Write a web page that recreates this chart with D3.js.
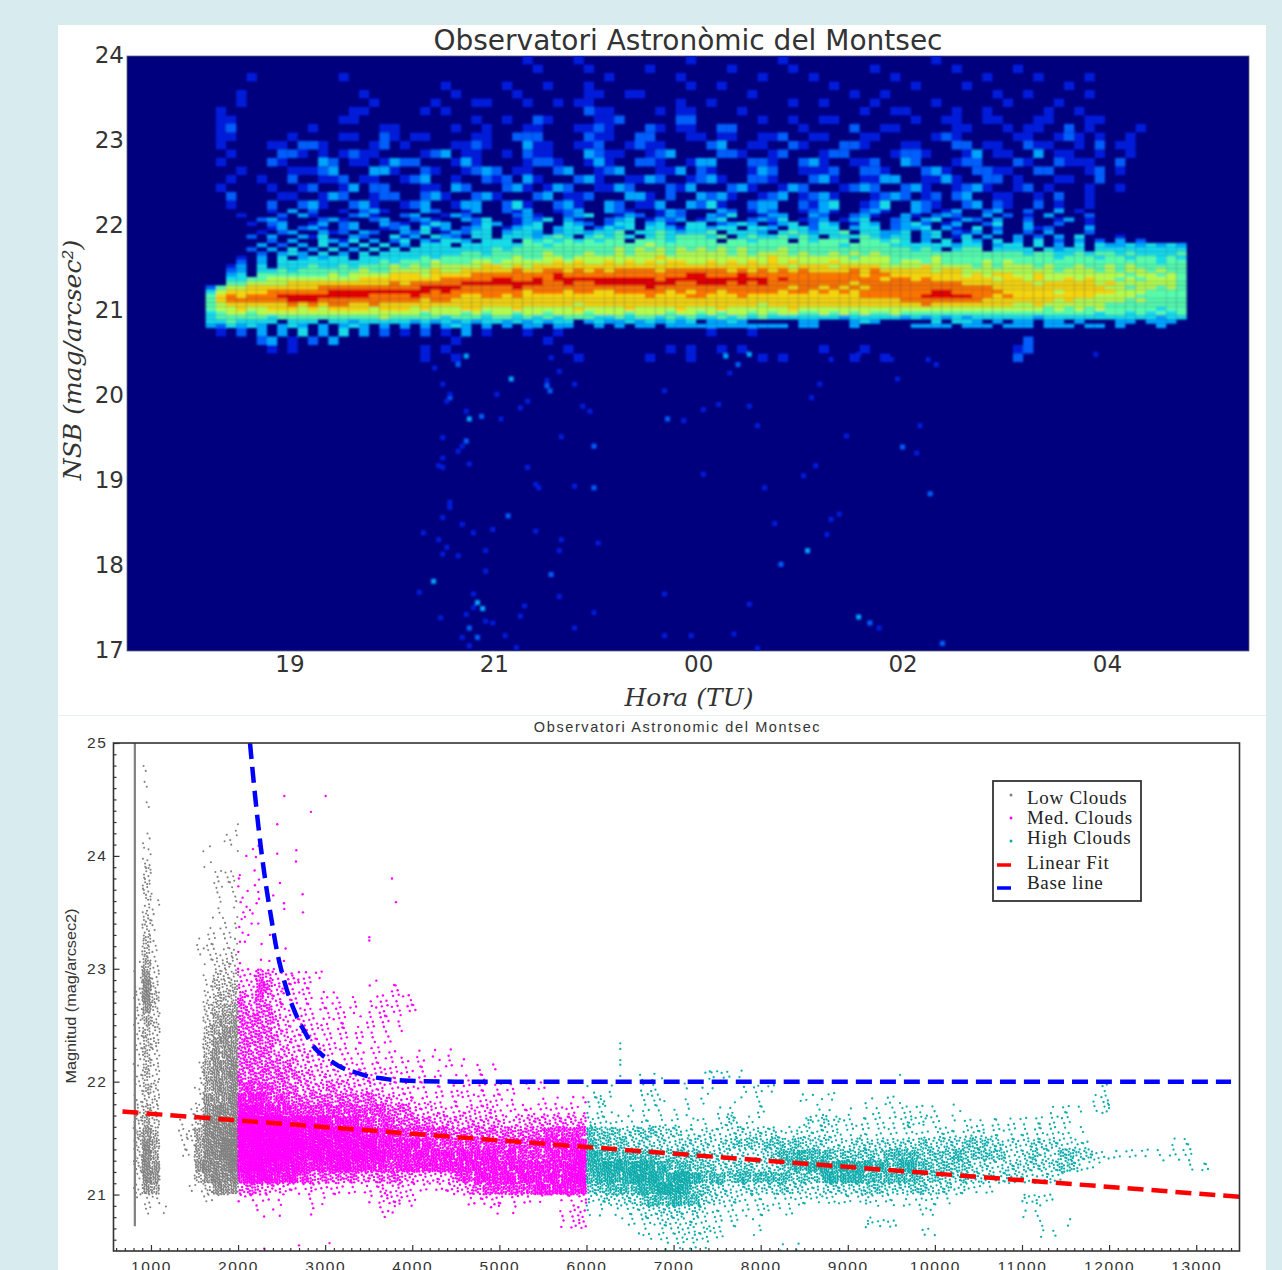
<!DOCTYPE html>
<html>
<head>
<meta charset="utf-8">
<script src="https://cdn.jsdelivr.net/npm/d3@7"></script>
<style>
  html, body { margin: 0; padding: 0; background: #d8ebee; overflow: hidden; }
  svg { display: block; }
</style>
</head>
<body>
<div id="chart"></div>
<script>
const topTitle = "Observatori Astronòmic del Montsec";
const bottomTitle = "Observatori Astronomic del Montsec";

// top panel: the axis is evenly spaced in the picture, so 00/02/04 sit at 23/25/27
const hourTicks = [19, 21, 23, 25, 27];
const hourLabels = ["19", "21", "00", "02", "04"];
const nsbTicks = [24, 23, 22, 21, 20, 19, 18, 17];
const jetColors = ["#00007f", "#0010e8", "#0060ff", "#00a8ff", "#10e0f0", "#50ffb0", "#b8ff48", "#ffe000", "#ff7800", "#e00000"];

// density level 0-9, columns of 0.1 h starting at 18.08 h
const heatStartHour = 18.08;

// speckle above the band, rows of 0.1 mag from 24 down to 22.2
const heatUpperTop = 24;
const heatUpperRows = [
  "0000000000 0000000000 0000000000 0010000100 0000000010 0000000100 0000000000 0010000000 0000000000 0000000",
  "0000000000 0000000000 0000000000 0001000010 0000100000 0010000010 0000001000 0000100000 1000000000 0000000",
  "0000010000 0000100000 0000000000 0000000000 1000000100 0000010000 1000000010 0000000100 0010000100 0000000",
  "0000000000 0000000000 0000100000 1000100010 0000000010 0100000000 0010000000 1000010000 0000010000 0000000",
  "0000100000 0000001000 0000010000 0100000011 0011000000 0000100000 0000100100 0000000010 0100000100 0000000",
  "0000100000 0000000100 0001000110 0010010110 0000000100 1000000010 0100001000 0010000001 0000100000 0000000",
  "0010000000 0000011000 0010100000 0000000021 1000010110 0001000000 0000010011 0000100100 0001001000 0000000",
  "0011000000 0000110000 0000000100 1002100001 1200000220 0000010010 0110000000 1001100110 0011000110 0000000",
  "0012000000 0100000011 0000010010 0011000112 1000210110 0220000001 0000200110 0000110001 0110020100 0010000",
  "0011000001 0000110021 0110000110 0222000021 1002200011 0110011200 1100011000 0012100000 1100121010 0100000",
  "0010000110 2210000120 1000011210 0031100112 0012110000 2300110021 0002210001 1000220110 0211001020 1100000",
  "0001000022 1010121100 0012301100 1021100032 1100123000 0221001200 0122000012 2100013011 0030110010 0100000",
  "0010000210 0032011013 2200013100 0012210013 1002210013 3000221002 3100112003 2000122000 2100211100 2000000",
  "0000100001 1123000331 0021001232 0110023001 2300011302 1000132001 1120022100 0231002211 0022000120 1000000",
  "0001001002 0011201100 1230010021 2031000231 0011320012 3100221000 2310011330 0113100220 1000110020 0000000",
  "0010000100 1200130220 0011032000 2310132001 1320002130 0023100132 0001232002 3100123100 1201000100 1000000",
  "0002000011 0013200122 0023100231 0002301120 0033102003 2310012301 2310001232 0120230011 0010200100 0000000",
  "0001000200 2310023100 1230013300 2410023100 3201130032 4100233002 1340012400 3210023021 0020100100 0000000"
].map(r => r.replace(/ /g, ""));

// the band itself, finer rows of 0.05 mag from 22.2 down to 20.8
const heatBandTop = 22.2;
const heatBandRows = [
  "0000000103 0200102310 0032001300 2130012300 3210013200 0320132001 2310023100 3201300230 0200301000 0000000",
  "0000100020 3100023100 2300132000 0231002340 0132013200 3240013300 3200231003 1023200302 0103000200 0000000",
  "0000002310 0023100230 0231003240 0132403100 2340132301 3400232401 2301340023 0340132030 0200130100 0000000",
  "0000010230 0130230032 1024300243 0134004320 2440341044 0234301340 2430143023 4201300240 0300200100 0000000",
  "0000000130 2310230012 3041302340 1344034402 4340443144 3440443044 2440344023 3403104020 0312000300 0000000",
  "0000001023 0031203200 3240132440 3443034434 4504454344 5044430454 3445044334 0340213030 0203000200 0000000",
  "0000020300 3140032004 1304320440 4443454045 4540454555 4504544545 4044454344 0340140300 3020304000 1000000",
  "0000000203 0043140302 4031443044 4054545454 5505554555 5055455505 4555055454 0304043040 3040203020 3020000",
  "0000003020 3040304040 3044404444 4455455555 5555655555 5555555555 5554555544 4444344034 4040304043 3434343",
  "0000020304 0304030404 0444444445 4555555555 5656565656 5656555655 5555555555 4540455044 4404344044 4444444",
  "0000002034 3040304044 4444445545 5555655565 5656665666 6656566656 5565656555 5555555555 5455445455 4544445",
  "0000103040 3434404444 4454555555 5655665666 6666676666 6666667666 6666566655 5565555555 5555455545 5455454",
  "0000203044 4444444454 5556555665 6666676766 7676767766 7676767676 6676666656 6565555656 5555555555 5555455",
  "0001304044 4544545556 5656666677 6767777777 7777777777 7777777767 7767777666 6766665656 6656556556 5655555",
  "0002304454 5555556556 6667667777 7877887878 7888878888 8878787878 7777878777 7767766666 6666566656 5665655",
  "0003405555 5556566667 7767777888 8888898888 8888888899 8889888888 8888878877 7777767677 6676666666 6566565",
  "0004455666 6666667777 7777888889 9889899999 9999989999 9999998988 8888888788 7877777767 7676676766 5656665",
  "0005566667 7777777778 7888889999 9999889889 9999999889 9989898888 8888788888 8888877777 7767777767 6666665",
  "0256677777 7788888888 8899998888 8988888888 8888988888 8888888878 8787878888 8888888877 7777777776 6566565",
  "0467777888 8889999999 9998988888 8878887887 7888887878 8788888788 7878788888 8899888887 7777677777 6665555",
  "0578788899 9999999888 8988887788 7877777777 7777877788 7778777777 7777788888 8999998878 7777777766 6655555",
  "0578888889 9988888888 8878877777 7777777777 7777777777 7777777777 7777777778 8888888777 7777676666 6565555",
  "0567777778 7878877877 7777777777 7777777677 7777777777 7777767777 7777777777 7877777777 6676666665 5555555",
  "0566766777 6767777677 7676667766 6766666766 6676666766 6766666676 6666666666 6666666666 6665656565 5555455",
  "0456656666 6666666666 6656665656 6566566656 6656665665 6566565665 5656565565 5555555555 5555555545 5454545",
  "0455555455 5555555565 5555455545 5454545554 4545545454 4545454444 4443444443 4343434444 4434444444 4444344",
  "0445444404 4404434444 4343434344 3434344034 3343434340 3343000003 3000343000 0040443030 3303303000 3303330",
  "0324343034 3030343030 3030343030 3033033003 0303303333 3333333303 3000300000 3333033303 3303330330 3000300"
].map(r => r.replace(/ /g, ""));

// thin remains under the band, rows of 0.1 mag from 20.8 down to 20.5
const heatLowerTop = 20.8;
const heatLowerRows = [
  "0010203030 4030403020 1020103010 0010010000 0000000000 1000100000 0000000000 0000000000 0000000000 0000000",
  "0000002301 0203000000 0000010000 0000100000 0000000000 0000000000 0000000000 0000000000 0200000000 0000000",
  "0000000101 0000000000 0010100000 0000001000 0000001010 0101000000 0100010000 0000000000 1200000000 0000000",
  "0000000000 0000000000 0010010000 0000000100 0000100010 0000010100 0000100100 0000000000 2000000000 0000000"
].map(r => r.replace(/ /g, ""));

// isolated faint spots below the band: hour, magnitude, level
const faintSpots = [
  [21.17,20.20,3],[21.52,20.12,2],[21.79,20.14,1],[20.57,19.98,2],[20.76,19.73,3],[20.88,19.76,2],[21.07,19.73,1],
  [21.33,19.94,1],[21.94,19.82,1],[22.67,20.06,1],[22.70,19.73,2],[22.86,19.71,1],[23.05,19.84,1],[23.20,19.90,1],
  [23.50,19.88,1],[23.58,19.65,1],[24.19,20.14,1],[24.11,19.98,1],[24.95,20.20,1],[25.17,19.65,1],[24.45,19.53,1],
  [25.00,19.40,2],[20.73,19.47,2],[20.50,19.16,1],[21.66,19.52,1],[21.98,19.41,2],[21.98,18.92,2],[21.44,18.92,1],
  [20.57,18.75,1],[21.14,18.59,2],[20.69,18.49,1],[20.80,18.39,1],[25.27,18.85,2],[24.30,18.55,1],[23.75,18.50,1],
  [24.07,18.18,3],[23.81,18.02,2],[20.41,17.82,3],[21.56,17.90,2],[20.92,17.94,1],[21.66,18.31,1],[20.50,18.14,1],
  [21.64,17.64,1],[20.84,17.57,3],[20.89,17.50,3],[21.30,17.53,1],[20.48,17.39,1],[21.98,17.45,1],[20.99,17.33,1],
  [20.76,17.27,2],[24.57,17.40,3],[24.68,17.33,2],[24.77,17.27,1],[23.35,17.20,1],[20.69,17.16,1],[20.84,17.16,2],
  [20.76,17.06,1],[21.22,17.04,1],[25.39,17.09,2],[23.58,17.03,1],[21.11,17.18,1],[22.67,17.18,1],[22.93,17.18,1],
  [20.73,20.47,3],[20.65,20.37,2],[20.35,20.45,1],[20.42,20.33,1],[23.27,20.47,3],[23.50,20.49,3],[23.39,20.37,2],
  [23.31,20.27,1],[21.56,20.45,1],[21.64,20.29,1],[25.25,20.43,1],[25.33,20.37,1],[24.89,20.43,1],[24.30,20.43,1],
  [24.57,20.49,1],[26.89,20.49,1],
  [20.50,20.14,1],[20.57,20.02,1],[20.54,19.94,1],[20.73,19.82,1],[21.03,20.02,1],[21.26,19.86,1],[21.55,20.06,2],
  [21.52,20.18,1],[21.87,19.88,1],[20.50,19.51,1],[20.69,19.41,1],[20.65,19.35,1],[20.50,19.27,1],[20.46,19.18,1],
  [20.76,19.20,1],[21.33,19.16,1],[21.41,18.96,1],[21.79,18.94,1],[20.57,18.69,1],[20.50,18.57,1],[20.46,18.31,1],
  [20.54,18.22,1],[20.65,18.12,1],[20.92,18.18,1],[20.99,18.43,1],[21.41,18.41,1],[21.64,18.18,1],[22.02,18.27,1],
  [20.31,18.39,1],[20.27,17.69,1],[20.80,17.67,1],[20.80,17.51,1],[20.73,17.43,1],[20.92,17.35,1],[21.26,17.41,1],
  [21.79,17.27,1],[23.50,17.55,1],[22.67,17.67,1],[24.26,18.37,1],[24.38,18.61,1],[23.65,18.92,1],[24.03,19.06,1],
  [24.15,19.18,1],[23.05,19.08,1],[25.14,19.33,1]
];

// bottom panel
const fluxTicks = [1000, 2000, 3000, 4000, 5000, 6000, 7000, 8000, 9000, 10000, 11000, 12000, 13000];
const magTicks = [25, 24, 23, 22, 21];

// density levels per 100 x 0.1 mag cell; each grid's first row ends at its top magnitude
const lowStartX = 800;
const lowTopMag = 24.8;
const lowRows = [
  "010000000000", "010000000000", "000000000000", "010000000000", "000000000000", "000000000001",
  "020000000011", "020000001001", "030000001000", "040000000121", "040000000212", "041000000101",
  "031000000101", "041000000111", "041000001111", "051000012112", "052000012223", "162000001343",
  "173000001444", "284000002545", "385000003555", "374000004566", "364000004667", "354000005677",
  "254000005777", "253000005777", "253000016778", "353000016778", "254000026778", "244000027778",
  "354000137888", "464001148888", "575002368889", "486001268899", "486001168899", "487000078889",
  "387000057888", "376000114777", "122000002100", "020100000000", "000000000000"
];

const medStartX = 2000;
const medTopMag = 23;
const medRows = [
  "3254222111 0000000000 0000000000 0000000000",
  "3365322210 0000010110 0000000000 0000000000",
  "5364322211 1101011121 0000000000 0000000000",
  "5455322222 2211022212 1000000000 0000000000",
  "5555432322 2110112110 0000000000 0000000000",
  "5555433322 1211111010 0000000000 0000000000",
  "5555433222 2111111100 0000000000 0000000000",
  "5555443333 2212121110 1010100000 0000000000",
  "5555554333 3222222111 1101110101 0000000000",
  "5555555443 3333332121 1111011110 0000000000",
  "6666555444 5443333222 2211121111 1101110000",
  "7776665555 5555554433 2221121222 1100011011",
  "8887776666 6666666555 3333223333 2222222211",
  "9999988888 7777666655 5544444444 3334444444",
  "9999999888 8888777766 6666555555 5555566666",
  "9999999988 8888887777 7766666666 6666677777",
  "9999998888 8888888777 7777777777 6766667778",
  "8998888777 7887777677 7777777777 7777777788",
  "7888777655 5555445554 3333466777 7777777788",
  "4544332232 2211113232 1112334566 6666777777",
  "2111100011 0000012332 1000001123 1111100123",
  "0010100010 0000002200 0000000001 0100000123",
  "0000000000 0000000000 0000000000 0000000123"
].map(r => r.replace(/ /g, ""));

// magenta points above the dense part, read one by one
const medOutliers = [
  [2531,24.53],[3006,24.53],[2837,24.39],[2450,24.28],[2669,24.05],[2665,23.95],[2450,24.02],[2171,24.06],[2095,24.0],
  [2236,24.09],[2205,23.99],[2190,23.87],[2020,23.83],[2010,23.80],[2003,23.73],[2240,23.79],[2481,23.76],[2741,23.66],
  [2404,23.65],[2527,23.58],[2531,23.53],[2745,23.5],[3767,23.8],[3813,23.59],[3507,23.28],[3507,23.25],[2052,23.63],
  [2030,23.59],[2110,23.69],[2194,23.74],[2232,23.68],[2240,23.62],[2213,23.58],[2098,23.55],[2137,23.52],[2060,23.5],
  [2167,23.49],[2041,23.44],[2079,23.46],[2156,23.4],[2232,23.4],[2014,23.37],[2052,23.32],[2118,23.3],[2022,23.24],
  [2079,23.24],[2366,23.3],[2270,23.22],[2546,23.18],[2263,23.08],[2359,23.07],[2462,23.06],[2527,23.07],[2481,23.02],
  [2003,23.15],[2022,23.05],[2623,22.94],[2699,22.97],[2695,22.88],[2300,20.52],[3050,20.57],[2700,20.55]
];

const highStartX = 6000;
const highTopMag = 22.1;
const highRows = [
  "0000001100 0000221100 0000000000 0000000000 0000000000 0000000000 0000000000 000",
  "1010001200 0101100022 1100000000 0000000000 0000000000 0000000002 0000000000 000",
  "1310001220 0102000101 0000110110 0010210000 0000000000 0000000013 0000000000 000",
  "1210011120 1100012001 1000001100 1011012111 0010000000 0001111013 0000000000 000",
  "3221112111 1021024111 0000042432 2112113332 1011111111 1112210000 0000000000 000",
  "6555445544 4223323434 3422333331 1212212211 3322332211 2222211000 0000000000 000",
  "6555544443 4444344554 5555544433 4444444454 4445554433 3444323200 0000000111 000",
  "7766666655 5554443333 4566766655 5554666655 5565555533 4533554432 1111111121 000",
  "7788788776 6655544554 4456677778 7777667765 5555443344 4444553110 0000000001 110",
  "6777788877 8876665666 6665555777 7766666655 5445444344 3333200000 0000000000 000",
  "5566667788 8755443344 4454433444 4455444554 4433111000 0000000000 0000000000 000",
  "3343445666 7664433322 2112221221 1232211121 1100000000 3321000000 0000000000 000",
  "1101123344 4343222111 2011000000 0000000012 0000000000 1100000000 0000000000 000",
  "0000112233 3332211101 0000000000 0031210000 0000000000 0010010000 0000000000 000",
  "0000002122 2333210001 0000000000 0000000011 0000000000 0011000000 0000000000 000",
  "0000000001 1111000000 0010100000 0000000000 0000000000 0000000000 0000000000 000"
].map(r => r.replace(/ /g, ""));

const highOutliers = [
  [6388,22.34],[6388,22.29],[6388,22.19],[6388,22.15],[6388,22.05],[7416,22.09],[7365,22.08],[9600,22.06],[6867,22.03]
];

// the thin gray column near x = 815
const lowColumnX = [815, 815];
const lowColumnMag = [25, 20.72];

const fitX = [673, 13497];
const fitMag = [21.735, 20.98];
const baseX = [2137, 2200, 2274, 2370, 2493, 2630, 2745, 3032, 3354, 3641, 3893, 4500, 13400];
const baseMag = [25, 24.5, 24, 23.5, 23, 22.66, 22.47, 22.2, 22.08, 22.03, 22.01, 22, 22];

const legendDots = ["Low Clouds", "Med. Clouds", "High Clouds"];
const legendLines = ["Linear Fit", "Base line"];
const cloudColors = ["#808080", "#ff00ff", "#0aabab"];
const lineColors = ["#ff0000", "#0000ff"];
const dotsPerLevel = [0, 2, 3, 5, 8, 13, 19, 27, 36, 48];

const svg = d3.select("#chart").append("svg").attr("width", 1282).attr("height", 1270);
const defs = svg.append("defs");

svg.append("rect").attr("x", 58).attr("y", 25).attr("width", 1208).attr("height", 1245).attr("fill", "#fff");
svg.append("line").attr("x1", 58).attr("x2", 1266).attr("y1", 715.5).attr("y2", 715.5).attr("stroke", "#e6f1f2");

drawTopPanel();
drawBottomPanel();

function drawTopPanel() {
    const x = d3.scaleLinear().domain([17.41, 28.39]).range([127, 1249]);
    const y = d3.scaleLinear().domain([17, 24]).range([651, 56]);
    const color = d3.scaleSequential(d3.interpolateRgbBasis(jetColors)).domain([0, 9]);

    defs.append("clipPath").attr("id", "heatClip").append("rect")
        .attr("x", 127).attr("y", 56).attr("width", 1122).attr("height", 595);
    defs.append("filter").attr("id", "soft").append("feGaussianBlur").attr("stdDeviation", 1);

    svg.append("rect").attr("x", 127).attr("y", 56).attr("width", 1122).attr("height", 595)
        .attr("fill", color(0)).attr("stroke", "#667").attr("stroke-width", 0.8);

    const cells = [];
    const addRows = (rows, top, step) => rows.forEach((row, r) => {
        row.split("").forEach((c, k) => {
            if (c !== "0") cells.push({ h: heatStartHour + k * 0.1, m: top - r * step, step, v: +c });
        });
    });
    addRows(heatUpperRows, heatUpperTop, 0.1);
    addRows(heatBandRows, heatBandTop, 0.05);
    addRows(heatLowerRows, heatLowerTop, 0.1);

    const heat = svg.append("g").attr("clip-path", "url(#heatClip)").append("g").attr("filter", "url(#soft)");
    heat.selectAll("rect.cell").data(cells).enter().append("rect")
        .attr("class", "cell")
        .attr("x", d => x(d.h))
        .attr("y", d => y(d.m))
        .attr("width", x(18.1) - x(18))
        .attr("height", d => y(20) - y(20 + d.step))
        .attr("fill", d => color(d.v));
    heat.selectAll("rect.spot").data(faintSpots).enter().append("rect")
        .attr("class", "spot")
        .attr("x", d => x(d[0]) - 2.5)
        .attr("y", d => y(d[1]) - 2.5)
        .attr("width", 5)
        .attr("height", 5)
        .attr("fill", d => color(d[2]));

    const xAxis = d3.axisBottom(x).tickValues(hourTicks).tickFormat((d, i) => hourLabels[i]).tickSize(0).tickPadding(5);
    const yAxis = d3.axisLeft(y).tickValues(nsbTicks).tickFormat(d3.format("d")).tickSize(0).tickPadding(3);
    const xg = svg.append("g").attr("transform", "translate(0,651)").call(xAxis);
    const yg = svg.append("g").attr("transform", "translate(127,0)").call(yAxis);
    [xg, yg].forEach(g => {
        g.select(".domain").remove();
        g.selectAll("text").attr("font-family", "DejaVu Sans").attr("font-size", 23).attr("fill", "#333");
    });
    yg.selectAll("text").attr("dy", "0.3em");

    svg.append("text").attr("x", 688).attr("y", 50).attr("text-anchor", "middle")
        .attr("font-family", "DejaVu Sans").attr("font-size", 28).attr("fill", "#333").text(topTitle);
    svg.append("text").attr("x", 689).attr("y", 706).attr("text-anchor", "middle")
        .attr("font-family", "DejaVu Serif").attr("font-style", "italic").attr("font-size", 25).attr("fill", "#333")
        .text("Hora (TU)");
    svg.append("text").attr("transform", "translate(81,360) rotate(-90)").attr("text-anchor", "middle")
        .attr("font-family", "DejaVu Serif").attr("font-style", "italic").attr("font-size", 25).attr("fill", "#333")
        .text("NSB (mag/arcsec²)");
}

function drawBottomPanel() {
    const x = d3.scaleLinear().domain([570, 13497]).range([113.5, 1239.5]);
    const y = d3.scaleLinear().domain([20.5, 25]).range([1251, 743]);

    defs.append("clipPath").attr("id", "scatterClip").append("rect")
        .attr("x", 113.5).attr("y", 743).attr("width", 1126).attr("height", 508);
    defs.append("filter").attr("id", "dotSoft").append("feGaussianBlur").attr("stdDeviation", 0.35);

    const plot = svg.append("g").attr("clip-path", "url(#scatterClip)");
    const clouds = plot.append("g").attr("filter", "url(#dotSoft)");

    clouds.append("path")
        .attr("d", d3.line().x(d => x(d)).y((d, i) => y(lowColumnMag[i]))(lowColumnX))
        .attr("stroke", cloudColors[0]).attr("stroke-width", 2.2).attr("fill", "none");

    drawCloud(clouds, x, y, lowRows, lowStartX, lowTopMag, [], cloudColors[0], 1.05);
    drawCloud(clouds, x, y, medRows, medStartX, medTopMag, medOutliers, cloudColors[1], 1.2);
    drawCloud(clouds, x, y, highRows, highStartX, highTopMag, highOutliers, cloudColors[2], 1.15);

    plot.append("path")
        .attr("d", d3.line().x(d => x(d)).y((d, i) => y(fitMag[i]))(fitX))
        .attr("stroke", lineColors[0]).attr("stroke-width", 4.5).attr("stroke-dasharray", "16 8").attr("fill", "none");
    plot.append("path")
        .attr("d", d3.line().x(d => x(d)).y((d, i) => y(baseMag[i])).curve(d3.curveMonotoneY)(baseX))
        .attr("stroke", lineColors[1]).attr("stroke-width", 4.5).attr("stroke-dasharray", "16 8").attr("fill", "none");

    // frame, then ticks pointing into the plot
    svg.append("rect").attr("x", 113.5).attr("y", 743).attr("width", 1126).attr("height", 508)
        .attr("fill", "none").attr("stroke", "#333").attr("stroke-width", 1.6);

    const minorX = d3.range(600, 13500, 100).filter(v => v % 1000 !== 0);
    const minorY = d3.range(20.6, 25, 0.1).filter(v => Math.abs(v - Math.round(v)) > 0.01);
    svg.append("g").attr("transform", "translate(0,1251)")
        .call(d3.axisBottom(x).tickValues(minorX).tickSizeInner(-3).tickSizeOuter(0).tickFormat(""))
        .call(styleTicks);
    svg.append("g").attr("transform", "translate(113.5,0)")
        .call(d3.axisLeft(y).tickValues(minorY).tickSizeInner(-3).tickSizeOuter(0).tickFormat(""))
        .call(styleTicks);

    const xg = svg.append("g").attr("transform", "translate(0,1251)")
        .call(d3.axisBottom(x).tickValues(fluxTicks).tickSizeInner(-6).tickSizeOuter(0).tickPadding(10).tickFormat(d3.format("d")))
        .call(styleTicks);
    const yg = svg.append("g").attr("transform", "translate(113.5,0)")
        .call(d3.axisLeft(y).tickValues(magTicks).tickFormat(d3.format("d")).tickSizeInner(-6).tickSizeOuter(0).tickPadding(6))
        .call(styleTicks);
    [xg, yg].forEach(g => {
        g.selectAll("text").attr("font-family", "Liberation Sans").attr("font-size", 15.5)
            .attr("letter-spacing", 1.6).attr("fill", "#333");
    });

    svg.append("text").attr("x", 677.5).attr("y", 732).attr("text-anchor", "middle")
        .attr("font-family", "Liberation Sans").attr("font-size", 14.5).attr("letter-spacing", 1.6).attr("fill", "#333")
        .text(bottomTitle);
    svg.append("text").attr("transform", "translate(76,996) rotate(-90)").attr("text-anchor", "middle")
        .attr("font-family", "Liberation Sans").attr("font-size", 15).attr("textLength", 175)
        .attr("lengthAdjust", "spacingAndGlyphs").attr("fill", "#333")
        .text("Magnitud (mag/arcsec2)");

    drawLegend();
}

function styleTicks(g) {
    g.select(".domain").remove();
    g.selectAll("line").attr("stroke", "#333").attr("stroke-width", 1.2);
}

// One cell's level sets how many dots it gets. The stipple offsets only spread
// those dots inside the cell; the amounts all come from the grid strings.
function drawCloud(parent, x, y, rows, startX, topMag, outliers, fill, r) {
    const dots = [];
    rows.forEach((row, ri) => {
        row.split("").forEach((c, k) => {
            const n = dotsPerLevel[+c];
            const seq = (ri * 131 + k * 47) * 53;
            for (let i = 0; i < n; i++) {
                const fx = ((seq + i) * 0.7548777) % 1;
                const fy = ((seq + i) * 0.5698403) % 1;
                dots.push([startX + (k + fx) * 100, topMag - (ri + fy) * 0.1]);
            }
        });
    });
    parent.append("g").attr("fill", fill).selectAll("circle")
        .data(dots.concat(outliers)).enter().append("circle")
        .attr("cx", d => x(d[0]))
        .attr("cy", d => y(d[1]))
        .attr("r", r);
}

function drawLegend() {
    const g = svg.append("g");
    g.append("rect").attr("x", 993).attr("y", 781).attr("width", 148).attr("height", 120)
        .attr("fill", "#fff").attr("stroke", "#333").attr("stroke-width", 1.8);

    const dotY = d3.scalePoint().domain(legendDots).range([795, 841]);
    const textY = d3.scalePoint().domain(legendDots).range([804, 844]);
    const dotColor = d3.scaleOrdinal().domain(legendDots).range(cloudColors);
    g.selectAll("circle").data(legendDots).enter().append("circle")
        .attr("cx", 1011).attr("cy", d => dotY(d)).attr("r", 1.5).attr("fill", d => dotColor(d));
    g.selectAll("text.dots").data(legendDots).enter().append("text").attr("class", "dots")
        .attr("x", 1027).attr("y", d => textY(d)).text(d => d);

    const lineY = d3.scalePoint().domain(legendLines).range([865, 888]);
    const lineTextY = d3.scalePoint().domain(legendLines).range([869, 889]);
    const lineColor = d3.scaleOrdinal().domain(legendLines).range(lineColors);
    g.selectAll("line").data(legendLines).enter().append("line")
        .attr("x1", 997).attr("x2", 1011).attr("y1", d => lineY(d)).attr("y2", d => lineY(d))
        .attr("stroke", d => lineColor(d)).attr("stroke-width", 3.5);
    g.selectAll("text.lines").data(legendLines).enter().append("text").attr("class", "lines")
        .attr("x", 1027).attr("y", d => lineTextY(d)).text(d => d);

    g.selectAll("text").attr("font-family", "Liberation Serif").attr("font-size", 19)
        .attr("letter-spacing", 0.7).attr("fill", "#222");
}
</script>
</body>
</html>
